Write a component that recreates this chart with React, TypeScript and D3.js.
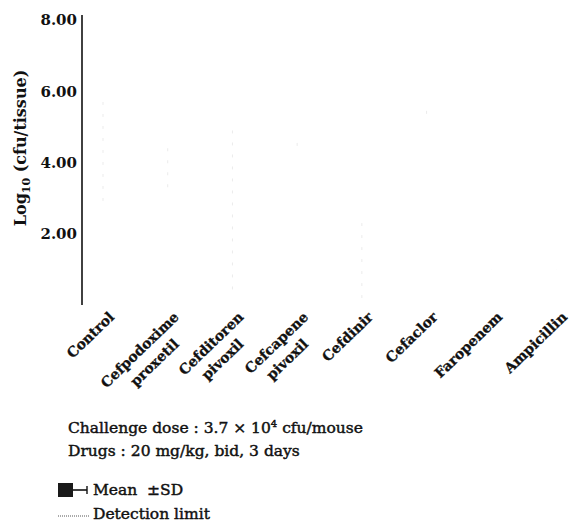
import React, { useEffect, useRef } from 'react';
import * as d3 from 'd3';

// Drug groups on the x axis (each entry is one or two label lines)
const drugs = ['Control', 'Cefpodoxime proxetil', 'Cefditoren pivoxil', 'Cefcapene pivoxil', 'Cefdinir', 'Cefaclor', 'Faropenem', 'Ampicillin'];
const drugLines = [['Control'], ['Cefpodoxime', 'proxetil'], ['Cefditoren', 'pivoxil'], ['Cefcapene', 'pivoxil'], ['Cefdinir'], ['Cefaclor'], ['Faropenem'], ['Ampicillin']];

// Log10 cfu/tissue (the bars barely survived the scan, only faint SD remnants show)
const means = [4.3, 3.8, 2.6, 4.5, 1.2, 5.4, 1.0, 1.0];
const sds = [1.4, 0.6, 2.3, 0.05, 1.1, 0.05, 0, 0];

const yTicks = [2, 4, 6, 8];

const App = () => {
    const svgRef = useRef<SVGSVGElement>(null);

    useEffect(() => {
        if (!svgRef.current) return;
        const svg = d3.select(svgRef.current);
        svg.selectAll('*').remove();

        const serif = '"DejaVu Serif", serif';

        const y = d3.scaleLinear().domain([0, 8]).range([305, 20]);
        const x = d3.scalePoint<string>().domain(drugs).range([103, 556]);

        // y axis
        svg.append('line')
            .attr('x1', 82).attr('x2', 82)
            .attr('y1', y(8) - 5).attr('y2', y(0))
            .attr('stroke', '#111').attr('stroke-width', 1.6);

        svg.append('g')
            .selectAll('text')
            .data(yTicks)
            .enter()
            .append('text')
            .attr('x', 77)
            .attr('y', d => y(d))
            .attr('dy', '0.36em')
            .attr('text-anchor', 'end')
            .attr('font-family', serif)
            .attr('font-weight', 700)
            .attr('font-size', 15)
            .attr('fill', '#111')
            .text(d => d3.format('.2f')(d));

        // y title
        const title = svg.append('text')
            .attr('transform', 'translate(26,148) rotate(-90)')
            .attr('text-anchor', 'middle')
            .attr('font-family', serif)
            .attr('font-weight', 700)
            .attr('font-size', 16)
            .attr('fill', '#111');
        title.append('tspan').text('Log');
        title.append('tspan').attr('font-size', 11).attr('dy', 4).text('10');
        title.append('tspan').attr('dy', -4).text(' (cfu/tissue)');

        // faint SD remnants
        svg.append('g')
            .selectAll('line')
            .data(drugs)
            .enter()
            .append('line')
            .attr('x1', d => x(d)!)
            .attr('x2', d => x(d)!)
            .attr('y1', (d, i) => y(means[i] + sds[i]))
            .attr('y2', (d, i) => y(Math.max(0, means[i] - sds[i])))
            .attr('stroke', '#ebebeb')
            .attr('stroke-width', 1)
            .attr('stroke-dasharray', '3,9');

        // category labels, rotated
        const lab = svg.append('g');
        drugs.forEach((d, i) => {
            drugLines[i].forEach((line, j) => {
                lab.append('text')
                    .attr('transform', `translate(${x(d)! + 12},${318 + j * 27}) rotate(-44)`)
                    .attr('text-anchor', 'end')
                    .attr('font-family', serif)
                    .attr('font-weight', 700)
                    .attr('font-size', 14)
                    .attr('fill', '#111')
                    .attr('stroke', '#111')
                    .attr('stroke-width', 0.3)
                    .text(line);
            });
        });

        const noteText = (sel: any) => sel
            .attr('font-family', serif)
            .attr('font-size', 15.5)
            .attr('fill', '#111')
            .attr('stroke', '#111')
            .attr('stroke-width', 0.45);

        // notes
        const note1 = svg.append('text')
            .attr('x', 68).attr('y', 433)
            .call(noteText);
        note1.append('tspan').text('Challenge dose : 3.7 \u00d7 10');
        note1.append('tspan').attr('font-size', 10).attr('dy', -6).text('4');
        note1.append('tspan').attr('dy', 6).text(' cfu/mouse');

        svg.append('text')
            .attr('x', 68).attr('y', 456)
            .call(noteText)
            .text('Drugs : 20 mg/kg, bid, 3 days');

        // legend
        svg.append('rect')
            .attr('x', 58).attr('y', 483)
            .attr('width', 15).attr('height', 14)
            .attr('fill', '#1a1a1a');
        svg.append('line')
            .attr('x1', 73).attr('x2', 87)
            .attr('y1', 490).attr('y2', 490)
            .attr('stroke', '#111').attr('stroke-width', 1.6);
        svg.append('line')
            .attr('x1', 87).attr('x2', 87)
            .attr('y1', 486).attr('y2', 494)
            .attr('stroke', '#111').attr('stroke-width', 1.4);
        svg.append('text')
            .attr('x', 93).attr('y', 495)
            .call(noteText)
            .attr('xml:space', 'preserve')
            .style('white-space', 'pre')
            .text('Mean  \u00b1SD');

        svg.append('line')
            .attr('x1', 58).attr('x2', 89)
            .attr('y1', 516).attr('y2', 516)
            .attr('stroke', '#555')
            .attr('stroke-width', 1)
            .attr('stroke-dasharray', '1,1');
        svg.append('text')
            .attr('x', 93).attr('y', 519)
            .call(noteText)
            .text('Detection limit');
    }, []);

    return (
        <svg
            ref={svgRef}
            width={577}
            height={524}
            style={{ position: 'absolute', left: 0, top: 0, background: '#fff' }}
        />
    );
};

export default App;
